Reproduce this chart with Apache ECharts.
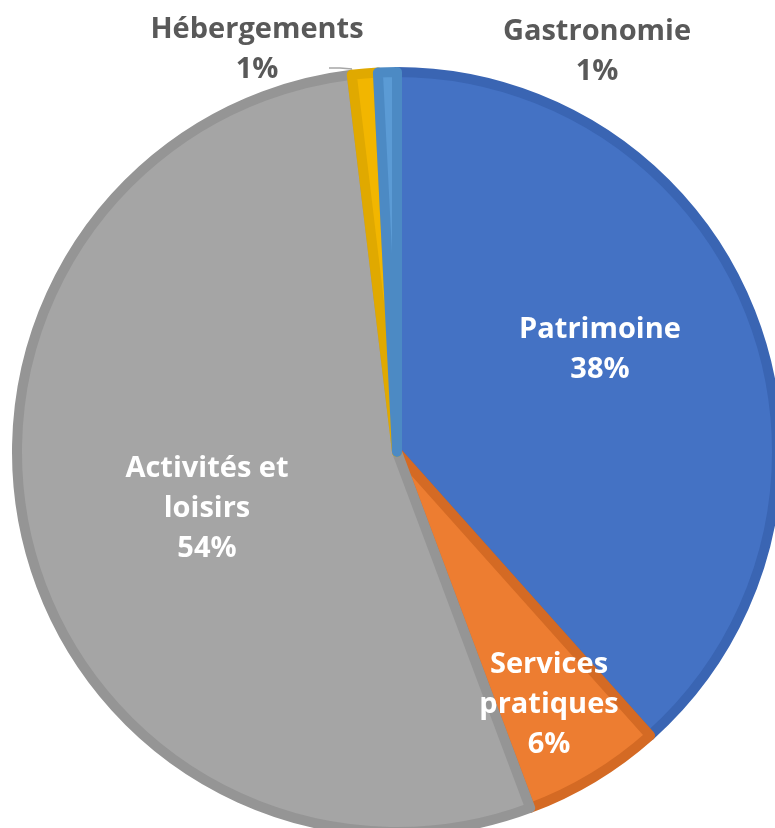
<!DOCTYPE html>
<html>
<head>
<meta charset="utf-8">
<script src="https://cdn.jsdelivr.net/npm/echarts@6/dist/echarts.min.js"></script>
<style>
  html, body { margin: 0; padding: 0; background: #fff; }
  #main { width: 775px; height: 828px; }
</style>
</head>
<body>
<div id="main"></div>
<script>
// data
const categories = ['Patrimoine', 'Services pratiques', 'Activités et loisirs', 'Hébergements', 'Gastronomie'];
const values = [38.4, 5.9, 53.8, 1.1, 0.8];
const labelNames = ['Patrimoine', 'Services\npratiques', 'Activités et\nloisirs', 'Hébergements', 'Gastronomie'];

// style
const fills = ['#4472C4', '#ED7D31', '#A5A5A5', '#F2B600', '#5B9BD5'];
const borders = ['#3A65B3', '#D46A24', '#959595', '#E0A900', '#4C8AC4'];
const CX = 397, CY = 452, R = 380;
// where each label sits, relative to the pie centre (Excel "best fit")
const labelOffsets = [[203, -102], [152, 253], [-190, 57], [-140, -402], [200, -400]];

const chart = echarts.init(document.getElementById('main'));

const option = {
  animation: false,
  series: [
    {
      type: 'pie',
      center: [CX, CY],
      radius: [0, R],
      startAngle: 90,
      clockwise: true,
      avoidLabelOverlap: false,
      label: {
        show: true,
        position: 'inside',
        fontFamily: 'Open Sans',
        fontWeight: 'bold',
        fontSize: 29,
        lineHeight: 40,
        color: '#fff',
        align: 'center',
        formatter: (p) => labelNames[p.dataIndex] + '\n' + Math.round(p.percent) + '%',
      },
      labelLine: { show: false },
      labelLayout: (p) => {
        const o = labelOffsets[p.dataIndex];
        const res = { x: CX + o[0], y: CY + o[1], align: 'center', verticalAlign: 'middle' };
        if (p.dataIndex === 3) {
          res.labelLinePoints = [[352, 69], [340, 68], [329, 68]];
        }
        return res;
      },
      data: categories.map((name, i) => ({
        name,
        value: values[i],
        itemStyle: { color: fills[i], borderColor: borders[i], borderWidth: 10 },
        label: i >= 3 ? { position: 'outside', color: '#595959' } : undefined,
        labelLine: i === 3 ? { show: true, smooth: false, lineStyle: { color: '#A6A6A6', width: 1.5 } } : undefined,
      })),
    },
  ],
};

chart.setOption(option);
</script>
</body>
</html>
